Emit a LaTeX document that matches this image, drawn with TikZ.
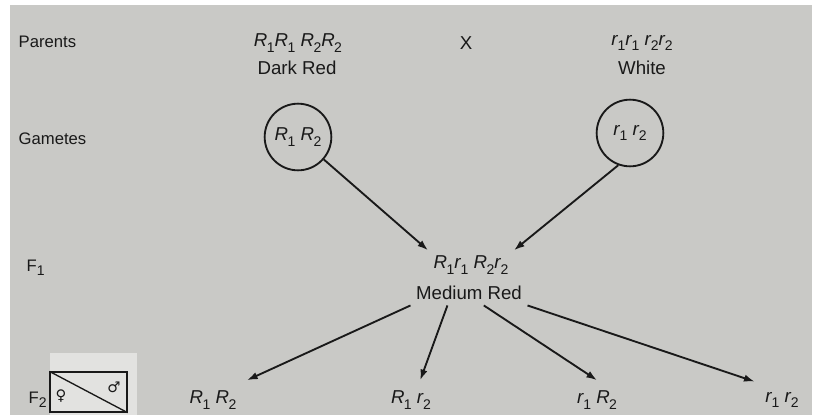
\documentclass[tikz,border=0pt]{standalone}
\usepackage{fontspec}
\setmainfont{Liberation Sans}
\newfontfamily\symfont{DejaVu Sans}
\usepackage{tikz}
\usetikzlibrary{arrows.meta, positioning, calc}

\definecolor{paper}{RGB}{201,201,198}
\definecolor{patch}{RGB}{226,226,224}
\definecolor{ink}{RGB}{25,25,25}

% allele with subscript
\newcommand{\al}[2]{\textit{#1}\kern-0.03em\raisebox{-0.55ex}{\fontsize{10.5}{10}\selectfont #2}}

\begin{document}
\begin{tikzpicture}[x=0.75pt, y=-0.75pt, >={Latex[length=8pt,width=5.5pt]}, color=ink,
    lbl/.style={anchor=west, font=\fontsize{12.5}{14}\selectfont},
    geno/.style={font=\fontsize{14}{16}\selectfont, inner sep=4pt},
    pheno/.style={font=\fontsize{14}{16}\selectfont, inner sep=4pt},
    gam/.style={draw, circle, line width=1.4pt, minimum size=50pt, inner sep=0pt, font=\fontsize{14}{16}\selectfont},
    off/.style={font=\fontsize{14}{16}\selectfont, inner sep=4pt, outer sep=4pt},
    link/.style={->, line width=1.4pt}
]
    \useasboundingbox (0,0) rectangle (822,415);
    \fill[paper] (10,5) rectangle (812,415);
    \fill[patch] (50,353) rectangle (137,415);

    % row labels
    \node[lbl] (parlbl) at (14,42) {Parents};
    \node[lbl] (gamlbl) at (14,139) {Gametes};
    \node[lbl] (f1lbl) at (22,268) {F\raisebox{-0.5ex}{\fontsize{10.5}{10}\selectfont 1}};
    \node[lbl] (f2lbl) at (24,400) {F\raisebox{-0.5ex}{\fontsize{10.5}{10}\selectfont 2}};

    % parents
    \node[geno] (p1) at (298,43) {\al{R}{1}\al{R}{1} \al{R}{2}\al{R}{2}};
    \node[pheno] (p1c) at (297,68) {Dark Red};
    \node[pheno] (cross) at (466,43) {X};
    \node[geno] (p2) at (642,43) {\al{r}{1}\al{r}{1} \al{r}{2}\al{r}{2}};
    \node[pheno] (p2c) at (642,68) {White};

    % gametes
    \node[gam] (g1) at (298,137) {\al{R}{1} \al{R}{2}};
    \node[gam] (g2) at (630,133) {\al{r}{1} \al{r}{2}};

    % F1
    \node[geno] (f1) at (471,265) {\al{R}{1}\al{r}{1} \al{R}{2}\al{r}{2}};
    \node[pheno] (f1c) at (469,293) {Medium Red};

    % F2
    \node[draw, line width=1pt, minimum width=57.75pt, minimum height=30pt, inner sep=0pt] (sexbox) at (88.5,392) {};
    \draw[line width=1pt] (sexbox.north west) -- (sexbox.south east);
    \node[font=\symfont\fontsize{11}{12}\selectfont] (fem) at (61,396) {♀};
    \node[font=\symfont\fontsize{11}{12}\selectfont] (mal) at (114,387) {♂};

    \node[off] (o1) at (213,400) {\al{R}{1} \al{R}{2}};
    \node[off] (o2) at (411,400) {\al{R}{1} \al{r}{2}};
    \node[off] (o3) at (597,400) {\al{r}{1} \al{R}{2}};
    \node[off] (o4) at (782,400) {\al{r}{1} \al{r}{2}};

    % connectors
    \draw[link] (g1) -- (f1.north west);
    \draw[link] (g2.-110) -- (f1.north east);
    \draw[link] (f1c.south west) -- (o1.north east);
    \draw[link] (f1c.-150) -- (o2.65);
    \draw[link] (f1c.-40) -- (o3.north);
    \draw[link] (f1c.south east) -- (o4.north west);
\end{tikzpicture}
\end{document}
